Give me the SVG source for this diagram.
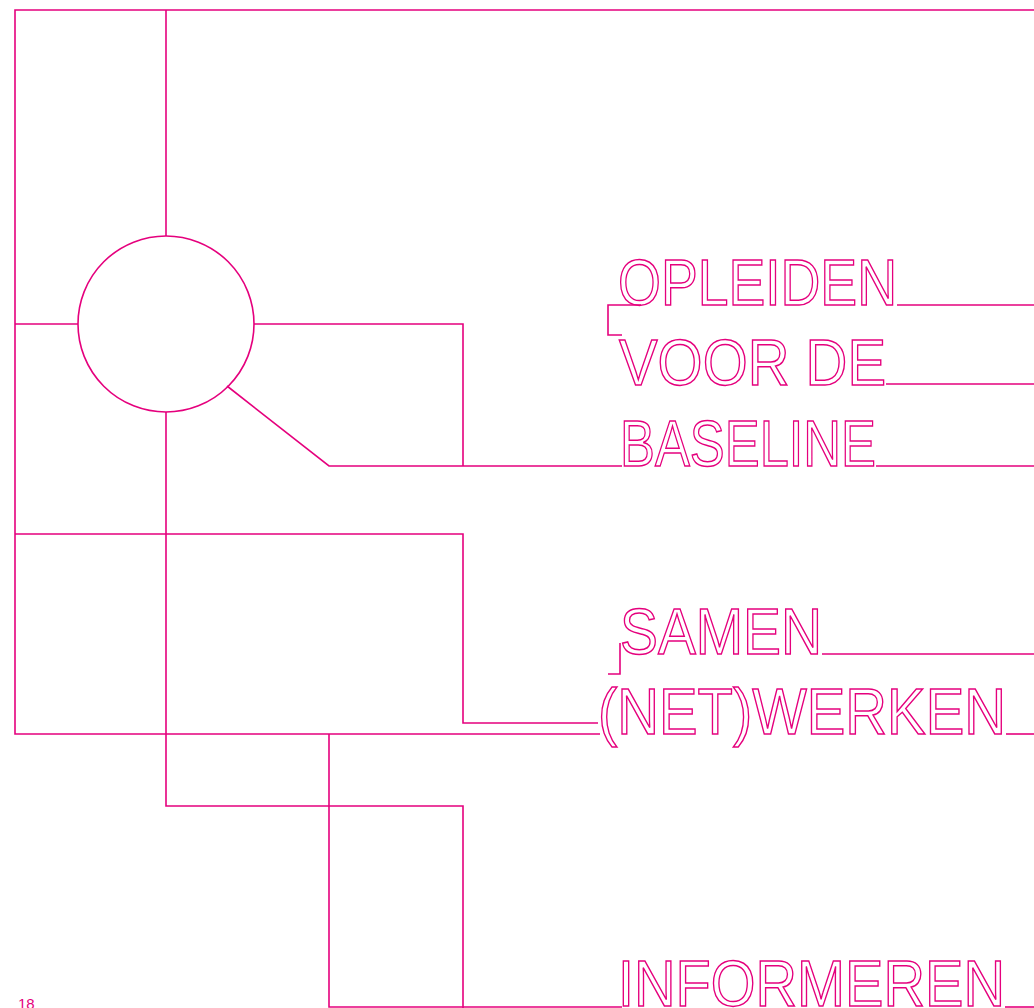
<svg xmlns="http://www.w3.org/2000/svg" width="1034" height="1008" viewBox="0 0 1034 1008">
<style>
.ln{fill:none;stroke:#e5007d;stroke-width:1.6;stroke-linejoin:miter}
.w{font-family:"Liberation Sans",Arial,sans-serif;font-size:64px;fill:none;stroke:#e5007d;stroke-width:1.5}
.pg{font-family:"Liberation Sans",Arial,sans-serif;font-size:15px;fill:#e5007d}
</style>
<rect width="1034" height="1008" fill="#ffffff"/>
<g id="connectors" class="ln">
<path d="M1034 10H15V734H600"/>
<path d="M166 10V236"/>
<path d="M166 412V806H463V1008"/>
<path d="M15 324H78"/>
<path d="M254 324H463V466"/>
<path d="M227 386L329 466H622"/>
<path d="M15 534H463V723H598"/>
<path d="M329 734V1007H622"/>
<path d="M897 305H1034"/>
<path d="M641 305H608V335H622"/>
<path d="M886 384H1034"/>
<path d="M876 466H1034"/>
<path d="M822 654H1034"/>
<path d="M620 643V674H608"/>
<path d="M1006 734H1034"/>
<path d="M1005 1007H1034"/>
</g>
<g id="node-circle"><circle class="ln" cx="166" cy="324" r="88"/></g>
<g id="node-opleiden"><text class="w" x="618" y="305" textLength="279" lengthAdjust="spacingAndGlyphs">OPLEIDEN</text></g>
<g id="node-voorde"><text class="w" x="619" y="385" textLength="267" lengthAdjust="spacingAndGlyphs">VOOR DE</text></g>
<g id="node-baseline"><text class="w" x="620" y="466" textLength="256" lengthAdjust="spacingAndGlyphs">BASELINE</text></g>
<g id="node-samen"><text class="w" x="620" y="654" textLength="202" lengthAdjust="spacingAndGlyphs">SAMEN</text></g>
<g id="node-netwerken"><text class="w" x="598" y="734" textLength="408" lengthAdjust="spacingAndGlyphs">(NET)WERKEN</text></g>
<g id="node-informeren"><text class="w" x="618" y="1006" textLength="387" lengthAdjust="spacingAndGlyphs">INFORMEREN</text></g>
<g id="page"><text class="pg" x="18" y="1009">18</text></g>
</svg>
